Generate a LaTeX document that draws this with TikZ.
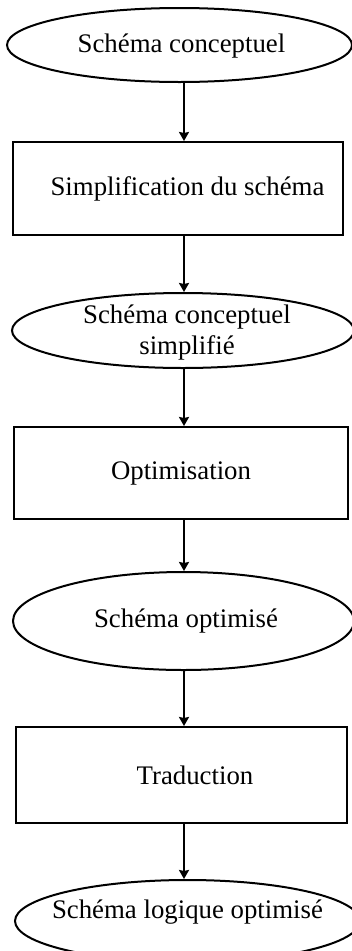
\documentclass[tikz,border=0pt]{standalone}
\usepackage{fontspec}
\setmainfont{Liberation Serif}
\usetikzlibrary{shapes.geometric,arrows.meta}
\begin{document}
\begin{tikzpicture}[x=1pt,y=-1pt,
  every node/.style={font=\fontsize{26.8}{31}\selectfont, inner sep=0pt, align=center},
  datum/.style={draw, ellipse, line width=2pt},
  process/.style={draw, rectangle, line width=2pt},
  flow/.style={line width=2pt, -{Stealth[length=9pt,width=10pt,inset=1pt]}}]
\useasboundingbox (0,0) rectangle (352,951);
\fill[white] (0,0) rectangle (352,951);

% data (ellipses, text set as a centred label so the outline keeps its size)
% and processing steps (boxes), top to bottom
\node[datum, minimum width=345, minimum height=74,
      label={[xshift=2pt,yshift=-1pt]center:Schéma conceptuel}] (e1) at (179.5,45) {};
\node[process, minimum width=330, minimum height=93] (r1) at (178,188.5) {\hspace*{19pt}Simplification du schéma};
\node[datum, minimum width=342, minimum height=75,
      label={[xshift=4pt,yshift=-2pt]center:Schéma conceptuel\\simplifié}] (e2) at (183,330.5) {};
\node[process, minimum width=334, minimum height=92] (r2) at (181,473) {Optimisation};
\node[datum, minimum width=341, minimum height=98,
      label={[xshift=2.5pt]center:Schéma optimisé}] (e3) at (183.5,621) {};
\node[process, minimum width=331, minimum height=96] (r3) at (181.5,775) {\hspace*{27pt}Traduction};
\node[datum, minimum width=345, minimum height=82,
      label={[yshift=9pt]center:Schéma logique optimisé}] (e4) at (187.5,921) {};

% common vertical axis of the connectors
\coordinate (axis) at (184,0);
\draw[flow] (e1.south -| axis) -- (r1.north -| axis);
\draw[flow] (r1.south -| axis) -- (e2.north -| axis);
\draw[flow] (e2.south -| axis) -- (r2.north -| axis);
\draw[flow] (r2.south -| axis) -- (e3.north -| axis);
\draw[flow] (e3.south -| axis) -- (r3.north -| axis);
\draw[flow] (r3.south -| axis) -- (e4.north -| axis);
\end{tikzpicture}
\end{document}
